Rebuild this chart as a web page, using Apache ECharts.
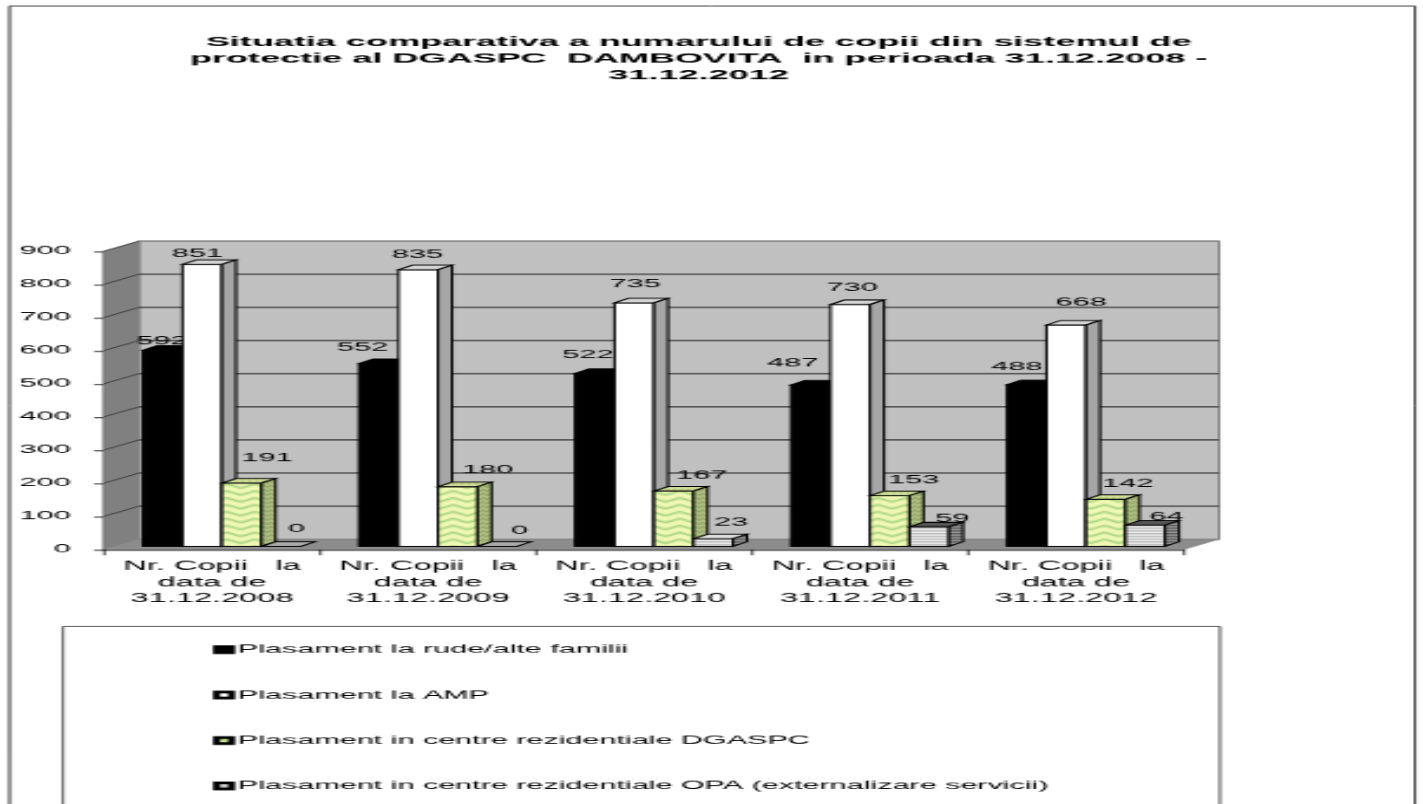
<!DOCTYPE html>
<html><head><meta charset="utf-8">
<script src="https://cdn.jsdelivr.net/npm/echarts@6/dist/echarts.min.js"></script>
<style>html,body{margin:0;padding:0;background:#fff;overflow:hidden;width:1423px;height:804px}
#stage{width:1423px;height:804px;overflow:hidden;position:relative}
#c{position:absolute;left:0;top:0;transform-origin:0 0}</style></head>
<body><div id="stage"><div id="c"></div></div>
<script>
// data
const titleLines = ['Situatia comparativa a numarului de copii din sistemul de','protectie al DGASPC  DAMBOVITA  in perioada 31.12.2008 -','31.12.2012'];
const categories = ['Nr. Copii   la\ndata de\n31.12.2008','Nr. Copii   la\ndata de\n31.12.2009','Nr. Copii   la\ndata de\n31.12.2010','Nr. Copii   la\ndata de\n31.12.2011','Nr. Copii   la\ndata de\n31.12.2012'];
const rudeName = 'Plasament la rude/alte familii';
const ampName = 'Plasament la AMP';
const dgaspcName = 'Plasament in centre rezidentiale DGASPC';
const opaName = 'Plasament in centre rezidentiale OPA (externalizare servicii)';
const rude = [592,552,522,487,488];
const amp = [851,835,735,730,668];
const dgaspc = [191,180,167,153,142];
const opa = [0,0,23,59,64];
const yTicks = [0,100,200,300,400,500,600,700,800,900];

// the reference is a horizontally stretched, soft picture: the whole chart is drawn small and scaled
const SX = 3.54, SY = 1.38, W = 1423, H = 804;
const X = v => v / SX, Y = v => v / SY;
const FS = 8.7, FF = '"Liberation Sans", Arial, sans-serif';
const el = document.getElementById('c');
el.style.width = X(W) + 'px'; el.style.height = Y(H) + 'px';
el.style.transform = 'scale(' + SX + ',' + SY + ')';

function tile(w, h, draw) {
  const c = document.createElement('canvas'); c.width = w; c.height = h;
  draw(c.getContext('2d')); return { image: c, repeat: 'repeat' };
}
const greenFront = tile(8, 5, g => {
  g.fillStyle = '#f0f8b4'; g.fillRect(0, 0, 8, 5);
  g.strokeStyle = '#84c468'; g.lineWidth = 1;
  for (const o of [-5, 0, 5]) { g.beginPath(); g.moveTo(0, o + .5); g.lineTo(4, o + 3.5); g.lineTo(8, o + .5); g.stroke(); }
});
const greenSide = tile(2, 3, g => {
  g.fillStyle = '#b4c488'; g.fillRect(0, 0, 2, 3);
  g.fillStyle = '#84985c'; g.fillRect(0, 0, 1, 1); g.fillRect(1, 1, 1, 1);
});
const greenTop = tile(2, 2, g => {
  g.fillStyle = '#d4e09c'; g.fillRect(0, 0, 2, 2);
  g.fillStyle = '#a8bc74'; g.fillRect(0, 0, 1, 1);
});
const greyFront = tile(2, 2, g => {
  g.fillStyle = '#f2f2f2'; g.fillRect(0, 0, 2, 2);
  g.fillStyle = '#b4b4b4'; g.fillRect(0, 0, 2, 1);
});
const greySide = tile(2, 2, g => {
  g.fillStyle = '#a0a0a0'; g.fillRect(0, 0, 2, 2);
  g.fillStyle = '#505050'; g.fillRect(0, 0, 2, 1);
});
const opaTops = ['#aaaaaa','#aaaaaa','#dcdcdc','#555555','#555555'];

const barW = 39.5, barDX = 14, barDY = 4.5, wallDX = 35, wallDY = 10;
const faces = [
  { front: '#000', top: '#000', side: '#000' },
  { front: '#fff', top: '#d4d4d4', side: '#a6a6a6' },
  { front: greenFront, top: greenTop, side: greenSide },
  { front: greyFront, top: null, side: greySide }
];
// label nudges from the bar's top centre, in page pixels
const nudges = [
  [[-1,-9],[-16,-16],[-7,-19],[-18,-22],[-10,-18]],
  [[-5,-11],[-1,-15],[1,-19],[2,-17],[15,-23]],
  [[25,-25],[30,-17],[28,-16],[24,-16],[22,-16]],
  [[15,-18],[22,-16],[18,-16],[23,-8],[21,-8]]
];

function barSeries(name, values, idx) {
  const f = faces[idx];
  return {
    name, type: 'custom', coordinateSystem: 'cartesian2d', clip: false, z: 3 + idx,
    data: values.map((v, i) => [i, v]),
    encode: { x: 0, y: 1 },
    itemStyle: { color: idx === 0 ? '#000' : idx === 1 ? '#fff' : f.front, borderColor: '#000', borderWidth: .6 },
    renderItem(params, api) {
      const i = api.value(0), v = api.value(1);
      const base = api.coord([i, 0]), tip = api.coord([i, v]);
      const w = X(barW), dx = X(barDX), dy = Y(barDY);
      const left = base[0] - 2 * w + X(10) + idx * w;
      const bot = base[1] - Y(3), top = tip[1] - Y(3);
      const st = { stroke: '#000', lineWidth: .7 };
      const kids = [];
      const flat = v === 0;
      if (!flat) kids.push({ type: 'rect', shape: { x: left, y: top, width: w, height: bot - top }, style: { fill: f.front, ...st } });
      kids.push({ type: 'polygon', shape: { points: [[left, top], [left + dx, top - dy], [left + w + dx, top - dy], [left + w, top]] },
        style: { fill: f.top || opaTops[i], ...st } });
      if (!flat) kids.push({ type: 'polygon', shape: { points: [[left + w, top], [left + w + dx, top - dy], [left + w + dx, bot - dy], [left + w, bot]] },
        style: { fill: f.side, ...st } });
      const n = nudges[idx][i];
      kids.push({ type: 'text', z2: 50, style: { text: String(v), x: left + w / 2 + X(n[0]), y: top + Y(n[1]),
        fill: '#000', fontSize: FS, fontFamily: FF, align: 'center', verticalAlign: 'middle' } });
      return { type: 'group', children: kids };
    }
  };
}

const wallSeries = {
  name: 'walls', type: 'custom', coordinateSystem: 'cartesian2d', clip: false, z: 1, silent: true,
  data: yTicks.map(t => [0, t]),
  encode: { x: 0, y: 1 },
  renderItem(params, api) {
    const cs = params.coordSys, dx = X(wallDX), dy = Y(wallDY);
    const t = api.value(1), y = api.coord([0, t])[1];
    const l = cs.x, r = cs.x + cs.width, b = cs.y + cs.height, tp = cs.y;
    const kids = [];
    if (params.dataIndex === 0) {
      kids.push({ type: 'rect', shape: { x: l + dx, y: tp - dy, width: cs.width, height: cs.height }, style: { fill: '#c0c0c0', stroke: '#808080', lineWidth: .7 } });
      kids.push({ type: 'polygon', shape: { points: [[l, tp], [l + dx, tp - dy], [l + dx, b - dy], [l, b]] }, style: { fill: '#808080', stroke: '#808080', lineWidth: .4 } });
      kids.push({ type: 'polygon', shape: { points: [[l, b], [l + dx, b - dy], [r + dx, b - dy], [r, b]] }, style: { fill: '#8c8c8c', stroke: '#808080', lineWidth: .4 } });
    } else {
      kids.push({ type: 'line', shape: { x1: l + dx, y1: y - dy, x2: r + dx, y2: y - dy }, style: { stroke: t === 900 ? '#808080' : '#303030', lineWidth: .8 } });
      kids.push({ type: 'line', shape: { x1: l, y1: y, x2: l + dx, y2: y - dy }, style: { stroke: '#303030', lineWidth: .6 } });
    }
    return { type: 'group', children: kids };
  }
};

const chart = echarts.init(el, null, { renderer: 'canvas', devicePixelRatio: 1.5 });
chart.setOption({
  animation: false, backgroundColor: '#fff',
  title: { text: titleLines.join('\n'), left: X(681), top: Y(27), textAlign: 'center',
    textStyle: { fontFamily: FF, fontSize: 10.2, fontWeight: 'bold', color: '#000', lineHeight: Y(16.5) } },
  graphic: [
    { type: 'rect', z: -1, shape: { x: X(9.5), y: Y(6), width: X(1405.5), height: Y(900) }, style: { fill: 'none', stroke: '#222', lineWidth: .6 } },
    { type: 'rect', z: -1, shape: { x: X(63), y: Y(626), width: X(1157), height: Y(400) }, style: { fill: 'none', stroke: '#444', lineWidth: .6 } }
  ],
  grid: { left: X(104), width: X(1080), top: Y(251), height: Y(298) },
  xAxis: { type: 'category', data: categories, boundaryGap: true,
    axisLine: { lineStyle: { color: '#000', width: .7 } },
    axisTick: { show: true, length: Y(6), lineStyle: { color: '#000', width: .5 } },
    axisLabel: { interval: 0, margin: Y(9.5), fontFamily: FF, fontSize: 9.2, color: '#000', lineHeight: Y(15.8) } },
  yAxis: { type: 'value', min: 0, max: 900, interval: 100, splitLine: { show: false },
    axisLine: { show: true, lineStyle: { color: '#000', width: .7 } },
    axisTick: { show: true, length: X(10), lineStyle: { color: '#000', width: .6 } },
    axisLabel: { margin: X(33), fontFamily: FF, fontSize: FS, color: '#000' } },
  legend: { orient: 'vertical', left: X(213), top: Y(643), padding: 0, itemWidth: X(15), itemHeight: Y(6), itemGap: Y(33), selectedMode: false,
    icon: 'rect', data: [rudeName, ampName, dgaspcName, opaName],
    textStyle: { fontFamily: FF, fontSize: 8.65, color: '#000', lineHeight: Y(10), padding: [0, 0, 0, -3.2] } },
  series: [wallSeries, barSeries(rudeName, rude, 0), barSeries(ampName, amp, 1), barSeries(dgaspcName, dgaspc, 2), barSeries(opaName, opa, 3)]
});
</script></body></html>
